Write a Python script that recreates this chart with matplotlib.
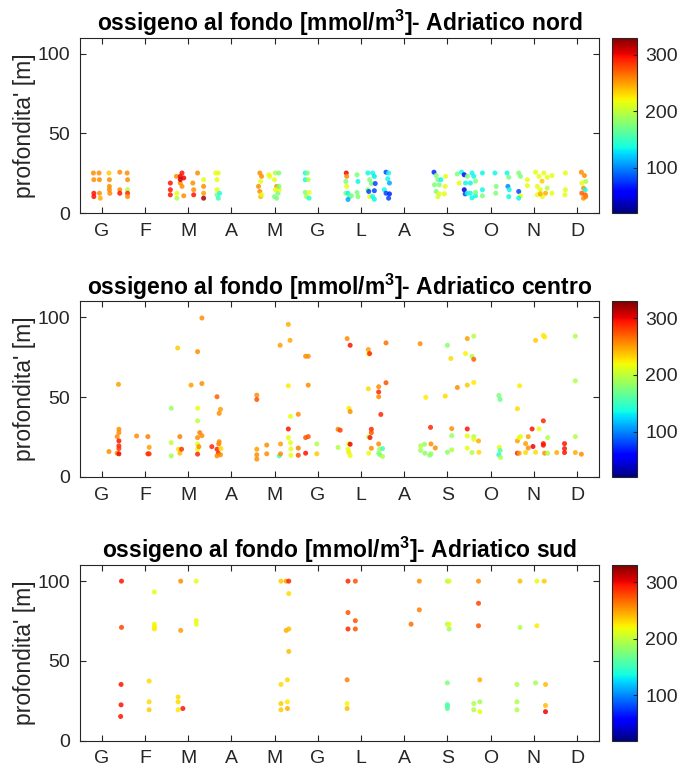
import numpy as np
import matplotlib
matplotlib.use("Agg")
import matplotlib.pyplot as plt

plt.rcParams["font.family"] = ["Liberation Sans", "DejaVu Sans"]

months = ["G", "F", "M", "A", "M", "G", "L", "A", "S", "O", "N", "D"]

# Adriatico nord: month position, depth [m], oxygen [mmol/m3]
x_nord = [0.81, 0.94, 0.82, 0.95, 0.82, 0.82, 0.95, 0.97, 1.17, 1.18, 1.18, 1.18, 1.19, 1.42, 1.59, 1.60, 1.42, 1.42, 1.60, 1.60, 1.60,
          2.59, 2.59, 2.59, 2.73, 2.74, 2.74, 2.82, 2.86, 2.90, 2.82, 2.86, 2.90, 2.82, 3.11, 3.13, 3.13, 3.22, 3.36, 3.36, 3.36, 3.36,
          3.64, 3.70, 3.67, 3.67, 3.67, 3.70, 3.73,
          4.66, 4.70, 4.68, 4.63, 4.66, 4.68, 4.70, 4.87, 4.89, 5.02, 5.10, 5.00, 5.05, 5.02, 5.08, 5.00, 5.11, 5.10, 5.05,
          5.71, 5.76, 5.71, 5.78, 5.71, 5.80, 5.74, 5.80,
          6.66, 6.67, 6.65, 6.67, 6.65, 6.70, 6.74, 6.78, 6.70, 6.91, 6.93, 6.91, 6.93,
          7.16, 7.27, 7.31, 7.20, 7.24, 7.33, 7.16, 7.18, 7.31, 7.20, 7.27, 7.31,
          7.58, 7.64, 7.62, 7.66, 7.54, 7.58, 7.66, 7.64,
          8.69, 8.74, 8.78, 8.70, 8.81, 8.85, 8.74, 8.81, 8.93, 8.96, 8.95, 8.78,
          9.23, 9.33, 9.39, 9.46, 9.57, 9.61, 9.27, 9.42, 9.53, 9.65, 9.39, 9.41, 9.46, 9.53, 9.57, 9.65, 9.65, 9.81, 9.81, 9.81,
          10.10, 10.13, 10.12, 10.38, 10.42, 10.40, 10.43, 10.42, 10.65, 10.69, 10.65, 10.69, 10.65,
          10.85, 10.85, 11.04, 11.12, 11.23, 11.31, 11.19, 11.42, 11.08, 11.15, 11.31, 11.27, 11.08, 11.20, 11.15, 11.42,
          11.73, 11.73, 11.72,
          12.10, 12.17, 12.20, 12.11, 12.15, 12.19, 12.11, 12.19, 12.15, 12.20]
z_nord = [25.1, 25.1, 20.9, 20.9, 12.4, 10.3, 12.4, 9.3, 25.1, 20.9, 16.7, 14.6, 12.4, 25.6, 25.1, 20.9, 14.6, 12.4, 14.6, 12.4, 10.3,
          18.8, 14.6, 11.4, 23.0, 12.4, 9.3, 23.0, 25.1, 22.0, 18.8, 16.7, 10.8, 21.0, 18.8, 14.6, 11.4, 25.1, 20.9, 16.7, 12.4, 9.3,
          25.1, 25.1, 20.9, 14.6, 11.4, 9.3, 12.4,
          25.1, 23.0, 19.8, 16.7, 13.5, 10.3, 11.4, 24.0, 23.0, 25.1, 25.1, 20.9, 16.7, 14.6, 12.4, 10.3, 14.6, 16.7, 9.3,
          25.1, 25.1, 20.9, 20.9, 12.9, 12.9, 10.3, 9.3,
          25.1, 23.0, 19.8, 16.7, 12.4, 12.4, 10.3, 10.8, 8.5, 24.0, 19.8, 12.9, 10.3,
          25.1, 25.1, 23.0, 20.9, 18.5, 18.5, 14.6, 13.5, 14.0, 10.3, 10.3, 8.6,
          25.6, 25.1, 21.5, 18.8, 14.6, 12.4, 12.0, 9.3,
          25.6, 23.5, 20.9, 17.7, 17.7, 20.9, 13.5, 12.0, 12.0, 23.0, 16.7, 10.3,
          24.5, 25.6, 24.0, 23.0, 25.1, 23.0, 18.8, 18.8, 18.8, 20.0, 14.6, 12.0, 12.4, 12.4, 9.5, 10.8, 13.0, 25.1, 14.6, 10.8,
          25.1, 16.7, 12.4, 25.1, 22.4, 16.7, 14.6, 10.3, 25.1, 23.0, 13.5, 10.8, 9.3,
          20.9, 17.2, 25.6, 23.0, 25.1, 22.4, 20.0, 23.5, 16.7, 14.6, 15.6, 12.4, 11.4, 10.3, 12.0, 12.4,
          25.1, 14.6, 11.4,
          25.6, 23.5, 19.8, 18.8, 15.6, 14.6, 12.4, 11.4, 9.3, 10.3]
o2_nord = [255, 255, 255, 255, 295, 295, 255, 245, 235, 255, 255, 255, 255, 255, 255, 255, 255, 295, 195, 290, 255,
           295, 295, 295, 255, 215, 195, 300, 295, 300, 255, 255, 255, 305, 255, 255, 295, 255, 215, 255, 250, 320,
           215, 215, 215, 215, 175, 150, 140,
           255, 255, 215, 255, 255, 245, 215, 215, 215, 195, 175, 215, 255, 215, 175, 175, 215, 175, 175,
           135, 175, 135, 195, 175, 215, 190, 140,
           300, 255, 175, 215, 175, 135, 155, 175, 110, 175, 135, 175, 175,
           135, 135, 130, 175, 175, 80, 175, 80, 80, 215, 135, 135,
           80, 135, 135, 110, 135, 80, 70, 80,
           70, 175, 175, 175, 175, 135, 175, 215, 215, 215, 215, 210,
           175, 135, 60, 175, 135, 135, 215, 135, 135, 175, 45, 80, 135, 135, 135, 135, 175, 135, 135, 175,
           135, 175, 175, 135, 175, 100, 135, 135, 175, 175, 80, 215, 135,
           215, 215, 215, 215, 215, 215, 235, 215, 215, 215, 195, 245, 215, 215, 245, 215,
           215, 215, 215,
           255, 255, 195, 215, 255, 135, 270, 270, 255, 260]

# Adriatico centro
x_centro = [1.17, 1.36, 1.36, 1.39, 1.40, 1.40, 1.40, 1.40, 1.40, 1.40, 1.81, 2.07, 2.10, 2.07, 2.10, 2.61, 2.61, 2.61, 2.76, 2.78,
            2.81, 2.81, 2.85, 3.07, 3.22, 3.22, 3.22, 3.22, 3.22, 3.22, 3.22, 3.25, 3.27, 3.32, 3.32, 3.32, 3.55, 3.67, 3.72, 3.75,
            3.67, 3.70, 3.71, 3.72, 3.75, 3.76, 3.67,
            4.59, 4.59, 4.59, 4.59, 4.59, 4.82, 4.82, 5.11, 5.14, 5.14, 5.13, 5.32, 5.32, 5.32, 5.32, 5.36, 5.37, 5.37, 5.38, 5.38,
            5.55, 5.55, 5.55, 5.72, 5.78, 5.78, 5.72, 5.78, 5.72, 5.98, 5.98,
            6.47, 6.52, 6.47, 6.68, 6.75, 6.72, 6.75, 6.72, 6.75, 6.70, 6.72, 6.75,
            7.17, 7.18, 7.20, 7.58, 7.17, 7.41, 7.41, 7.41, 7.58, 7.46, 7.24, 7.24, 7.18, 7.21, 7.24, 7.18, 7.41, 7.43, 7.50, 7.41, 7.44, 7.50,
            8.37, 8.50, 8.61, 8.38, 8.38, 8.47, 8.48, 8.59, 8.62, 8.62, 8.72,
            8.95, 9.00, 9.08, 9.10, 9.10, 9.10, 9.00, 9.23, 9.46, 9.61, 9.42, 9.57, 9.61, 9.46, 9.61, 9.46, 9.46, 9.61, 9.61, 9.72,
            9.46, 9.57, 9.73,
            10.19, 10.22, 10.20, 10.22, 10.19, 10.23,
            10.62, 10.67, 10.62, 10.66, 10.69, 10.62, 10.66, 10.81, 10.81, 10.87, 10.87, 10.96, 10.98, 11.04, 11.04, 11.22, 11.25,
            11.12, 11.22, 11.22, 11.22, 11.25, 11.32, 11.32, 11.53, 11.71, 11.71, 11.71, 11.96, 11.96, 11.96, 11.96, 12.10]
z_centro = [15.8, 25.2, 14.8, 58.0, 29.8, 27.7, 22.5, 19.4, 17.7, 14.4, 25.6, 25.2, 18.5, 14.4, 14.4, 43.0, 21.4, 13.1, 80.8, 17.3,
            14.8, 25.2, 17.3, 57.5, 78.5, 43.0, 35.1, 24.6, 20.6, 17.3, 14.2, 18.9, 27.7, 99.6, 58.5, 25.8, 18.9, 50.2, 39.8, 42.3,
            17.3, 14.8, 20.6, 22.0, 13.8, 17.7, 13.1,
            51.2, 48.5, 17.3, 13.8, 11.1, 19.9, 14.4, 13.1, 20.6, 14.4, 82.5, 95.6, 57.1, 30.0, 24.6, 85.6, 37.9, 21.4, 17.5, 13.5,
            39.2, 18.0, 13.5, 75.6, 75.6, 57.5, 24.6, 25.2, 14.8, 20.6, 14.4,
            29.8, 29.2, 18.4, 86.7, 82.5, 43.0, 40.9, 20.8, 20.4, 17.3, 15.2, 13.3,
            79.8, 77.0, 77.3, 84.0, 55.2, 56.5, 53.2, 50.2, 59.0, 39.1, 29.8, 27.7, 25.2, 24.6, 17.9, 14.8, 20.6, 17.3, 17.7, 14.8, 13.8, 12.7,
            83.5, 49.8, 31.0, 19.4, 16.5, 20.4, 14.8, 13.5, 14.4, 20.6, 18.1,
            50.6, 82.5, 74.2, 30.2, 25.8, 16.9, 15.4, 56.0, 86.7, 88.2, 77.3, 75.6, 73.7, 57.5, 59.2, 30.0, 25.6, 25.2, 23.5, 22.5,
            18.0, 15.2, 15.4,
            51.0, 48.5, 18.5, 16.5, 13.8, 12.1,
            42.7, 57.1, 22.5, 24.6, 25.2, 14.8, 14.8, 20.8, 15.2, 25.2, 18.1, 30.0, 19.0, 15.4, 85.6, 88.7, 87.7,
            30.0, 35.1, 20.8, 19.8, 14.8, 24.6, 14.8, 15.2, 20.8, 17.7, 15.2, 88.2, 60.2, 25.2, 15.2, 14.2]
o2_centro = [255, 255, 255, 250, 255, 255, 295, 290, 285, 300, 255, 260, 250, 290, 285, 185, 200, 190, 235, 230,
             240, 260, 285, 250, 255, 215, 200, 255, 215, 215, 290, 255, 260, 255, 255, 255, 290, 270, 255, 250,
             290, 290, 260, 255, 255, 230, 255,
             255, 275, 250, 255, 255, 255, 255, 155, 250, 255, 250, 245, 225, 295, 215, 245, 215, 215, 215, 215,
             255, 260, 275, 255, 255, 255, 275, 275, 295, 195, 235,
             260, 280, 195, 255, 295, 225, 255, 215, 300, 215, 225, 215,
             250, 220, 290, 265, 230, 255, 290, 255, 275, 290, 290, 275, 195, 295, 255, 215, 255, 190, 155, 180, 175, 195,
             255, 225, 290, 195, 190, 185, 180, 180, 185, 255, 255,
             230, 180, 230, 255, 185, 195, 180, 255, 250, 195, 220, 195, 270, 235, 225, 295, 215, 195, 215, 245,
             215, 195, 230,
             175, 170, 215, 160, 140, 195,
             230, 225, 250, 215, 215, 295, 250, 250, 230, 250, 255, 295, 300, 230, 235, 225, 225,
             215, 290, 295, 295, 255, 195, 195, 245, 295, 295, 295, 195, 195, 195, 245, 255]

# Adriatico sud
x_sud = [1.46, 1.46, 1.45, 1.45, 1.44, 2.22, 2.22, 2.22, 2.22, 2.10, 2.10, 2.10, 2.83, 2.83, 2.77, 2.77, 2.77, 2.88, 3.19, 3.19, 3.19,
         5.15, 5.27, 5.33, 5.33, 5.27, 5.33, 5.33, 5.30, 5.15, 5.15, 5.15, 5.30, 5.30,
         6.70, 6.87, 6.70, 6.87, 6.70, 6.87, 6.68, 6.68, 6.68,
         8.35, 8.35, 8.16, 9.00, 9.04, 9.00, 9.04, 9.04, 9.00, 9.00, 9.00, 9.00,
         9.72, 9.72, 9.72, 9.75, 9.61, 9.75, 9.61, 9.75,
         10.68, 11.07, 11.24, 10.68, 11.07, 10.61, 11.04, 11.27, 10.61, 10.61, 11.27, 11.27]
z_sud = [100, 71.0, 35.2, 22.4, 15.1, 93.2, 73.0, 71.4, 70.0, 37.3, 24.3, 19.3, 100, 69.1, 27.3, 24.3, 19.3, 20.1, 100, 75.2, 73.0,
         100, 100, 100, 92.2, 69.1, 70.0, 55.9, 38.1, 35.2, 23.2, 19.3, 24.3, 20.1,
         100, 100, 80.3, 75.2, 70.0, 70.0, 38.1, 23.2, 20.1,
         100, 82.0, 73.0, 100, 100, 73.0, 73.0, 70.0, 36.2, 22.6, 21.4, 20.1,
         100, 86.1, 72.0, 38.1, 23.2, 24.3, 19.3, 18.1,
         100, 100, 100, 71.0, 72.0, 35.2, 36.2, 35.2, 24.3, 19.3, 22.0, 18.1]
o2_sud = [295, 280, 295, 295, 295, 215, 220, 220, 225, 230, 230, 235, 255, 250, 230, 230, 225, 295, 215, 220, 215,
          235, 250, 290, 230, 245, 240, 240, 230, 230, 235, 235, 225, 245,
          290, 275, 275, 275, 290, 275, 260, 220, 240,
          255, 260, 265, 195, 210, 195, 215, 190, 175, 160, 160, 160,
          255, 280, 275, 245, 195, 190, 195, 215,
          240, 215, 235, 195, 225, 195, 190, 240, 195, 195, 240, 300]

panels = [("nord", x_nord, z_nord, o2_nord),
          ("centro", x_centro, z_centro, o2_centro),
          ("sud", x_sud, z_sud, o2_sud)]

fig = plt.figure(figsize=(6.78, 7.69), dpi=100)
bottoms = [0.723, 0.380, 0.037]
grey = "#262626"

for (name, xs, zs, vals), b in zip(panels, bottoms):
    ax = fig.add_axes([0.118, b, 0.765, 0.228])
    sc = ax.scatter(xs, zs, c=vals, cmap="jet", vmin=20, vmax=330, s=13, alpha=0.85, linewidths=0)
    ax.set_xlim(0.5, 12.5)
    ax.set_ylim(0, 110)
    ax.set_xticks(np.arange(1, 13))
    ax.set_xticklabels(months)
    ax.set_yticks([0, 50, 100])
    ax.tick_params(direction="in", length=4, width=0.8, labelsize=14, colors=grey,
                   top=True, right=True, pad=7)
    for sp in ax.spines.values():
        sp.set_color(grey)
        sp.set_linewidth(0.8)
    ax.set_ylabel("profondita' [m]", fontsize=16.5, color=grey, labelpad=1)
    ax.set_title("ossigeno al fondo [mmol/m$^\\mathregular{3}$]- Adriatico " + name,
                 fontsize=16.5, fontweight="bold", pad=5)

    cax = fig.add_axes([0.9027, b, 0.037, 0.228])
    cb = fig.colorbar(sc, cax=cax)
    cb.solids.set_alpha(1)
    cb.set_ticks([100, 200, 300])
    cb.ax.tick_params(labelsize=14, colors=grey, direction="in", length=3, width=0.8, pad=6)
    cb.outline.set_edgecolor(grey)
    cb.outline.set_linewidth(0.8)

plt.savefig("out.png", dpi=100)
